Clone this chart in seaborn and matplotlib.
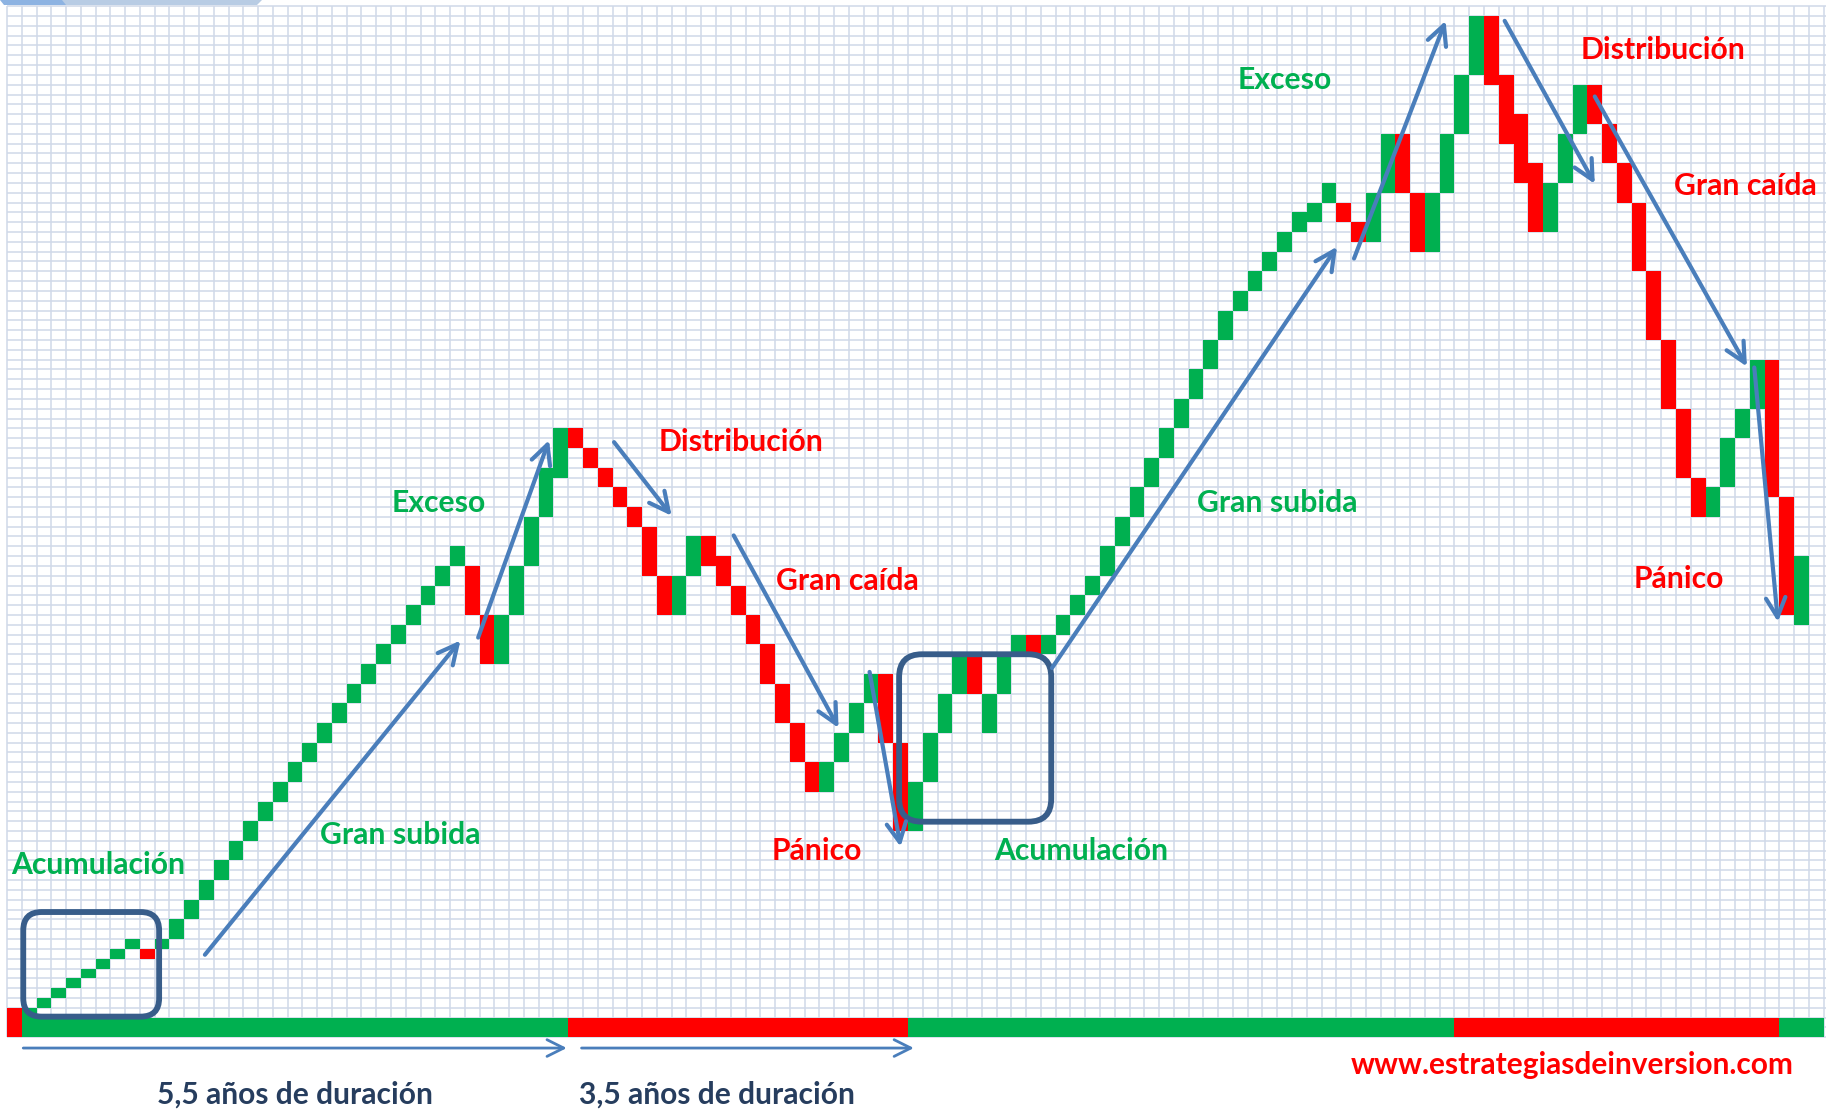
import numpy as np
import pandas as pd
import seaborn as sns
import matplotlib.pyplot as plt
from matplotlib.patches import FancyBboxPatch, Polygon

# --- data: one brick column per grid column (rows are grid rows) ---
brick_low = [0, 0, 1, 2, 3, 4, 5, 6, 7, 6, 7, 8, 10, 12, 14, 16, 18, 20, 22, 24,
             26, 28, 30, 32, 34, 36, 38, 40, 42, 44, 46, 41, 36, 36, 41, 46, 51, 55, 58, 56,
             54, 52, 50, 45, 41, 41, 45, 46, 44, 41, 38, 34, 30, 26, 23, 23, 26, 29, 32, 28,
             19, 19, 24, 29, 33, 33, 29, 33, 37, 37, 37, 39, 41, 43, 45, 48, 51, 54, 57, 60,
             63, 66, 69, 72, 74, 76, 78, 80, 81, 83, 81, 79, 79, 84, 84, 78, 78, 84, 90, 96,
             95, 89, 85, 80, 80, 85, 90, 91, 87, 83, 76, 69, 62, 55, 51, 51, 54, 59, 62, 53,
             41, 40]
brick_high = [1, 1, 2, 3, 4, 5, 6, 7, 8, 7, 8, 10, 12, 14, 16, 18, 20, 22, 24, 26,
              28, 30, 32, 34, 36, 38, 40, 42, 44, 46, 48, 46, 41, 41, 46, 51, 56, 60, 60, 58,
              56, 54, 52, 50, 45, 45, 49, 49, 47, 44, 41, 38, 34, 30, 26, 26, 29, 32, 35, 35,
              28, 24, 29, 33, 37, 37, 33, 37, 39, 39, 39, 41, 43, 45, 48, 51, 54, 57, 60, 63,
              66, 69, 72, 74, 76, 78, 80, 82, 83, 85, 83, 81, 84, 90, 90, 84, 84, 90, 96, 102,
              102, 96, 92, 87, 85, 90, 95, 95, 91, 87, 83, 76, 69, 62, 55, 54, 59, 62, 67, 67,
              53, 47]
brick_color = ("rggggggggrgggggggggg"
               "gggggggggggrrgggggrr"
               "rrrrrggrrrrrrrrggggr"
               "rggggrgggrgggggggggg"
               "ggggggggggrrggrrgggg"
               "rrrrgggrrrrrrrrggggr"
               "rg")

# market phases along the bottom strip (grid columns)
phase_start = [0, 1, 38, 61, 98, 120]
phase_end = [1, 38, 61, 98, 120, 123]
phase_color = ["r", "g", "r", "g", "r", "g"]

# annotation labels: text, x (column), y (row), colour
label_text = ["Acumulación", "Gran subida", "Exceso", "Distribución", "Gran caída", "Pánico",
              "Acumulación", "Gran subida", "Exceso", "Distribución", "Gran caída", "Pánico"]
label_x = [6.15, 26.6, 29.2, 49.7, 56.9, 54.8, 72.7, 86.0, 86.5, 112.1, 117.7, 113.2]
label_y = [15.5, 18.6, 52.4, 58.6, 44.5, 17.0, 17.0, 52.4, 95.5, 98.5, 84.7, 44.7]
label_color = ["g", "g", "g", "r", "r", "r", "g", "g", "g", "r", "r", "r"]

# trend arrows: start (x, y) -> end (x, y)
arrow_x0 = [13.4, 31.9, 41.1, 49.2, 58.4, 70.75, 91.2, 101.4, 107.5, 118.3]
arrow_y0 = [6.4, 38.7, 58.6, 49.1, 35.2, 35.6, 77.3, 101.5, 93.8, 66.2]
arrow_x1 = [30.7, 36.7, 45.0, 56.3, 60.5, 90.05, 97.4, 107.5, 117.8, 119.9]
arrow_y1 = [38.4, 58.8, 51.1, 29.5, 17.4, 78.5, 101.5, 84.9, 66.3, 40.3]

# accumulation boxes: left, bottom, right, top
box_left = [1.1, 60.4]
box_bottom = [0.1, 19.95]
box_right = [10.3, 70.7]
box_top = [10.75, 37.0]

# duration arrows under the strip
span_x0 = [1.1, 38.9]
span_x1 = [37.9, 61.4]
span_text = ["5,5 años de duración", "3,5 años de duración"]
span_text_x = [19.5, 48.1]

GREEN = "#00b050"
RED = "#ff0000"
ARROW = "#4a7ebb"
BOX = "#385d8a"
NAVY = "#263d5e"
GRID = "#d0d8e8"
cmap = {"g": GREEN, "r": RED}

# pixel geometry of the sheet grid
W, H = 1826, 1110
COL_PX, ROW_PX = 14.77, 9.82
X0_PX, Y0_PX = 7.0, 1017.6

sns.set_style("white")
plt.rcParams["font.family"] = ["Lato", "DejaVu Sans"]

fig = plt.figure(figsize=(W / 100, H / 100), dpi=100)
ax = fig.add_axes([0, 0, 1, 1])
ax.set_xlim(-X0_PX / COL_PX, (W - X0_PX) / COL_PX)
ax.set_ylim((Y0_PX - H) / ROW_PX, Y0_PX / ROW_PX)
ax.axis("off")

# spreadsheet grid
n_cols = 123
ax.vlines(np.arange(0, n_cols + 1), -2, 103, color=GRID, lw=1.1, zorder=1)
ax.hlines(np.arange(-2, 104), 0, (W - X0_PX) / COL_PX, color=GRID, lw=1.1, zorder=1)

bricks = pd.DataFrame({"col": np.arange(len(brick_low)), "low": brick_low,
                       "high": brick_high, "color": list(brick_color)})
ax.bar(bricks["col"] + 0.5, bricks["high"] - bricks["low"], bottom=bricks["low"],
       width=1.0, color=bricks["color"].map(cmap), linewidth=0, zorder=3)

phases = pd.DataFrame({"start": phase_start, "end": phase_end, "color": phase_color})
ax.bar((phases["start"] + phases["end"]) / 2, 2, bottom=-2,
       width=phases["end"] - phases["start"], color=phases["color"].map(cmap),
       linewidth=0, zorder=3)

aspect = COL_PX / ROW_PX
for l, b, r, t, rs in zip(box_left, box_bottom, box_right, box_top, [1.25, 1.55]):
    ax.add_patch(FancyBboxPatch((l, b), r - l, t - b,
                                boxstyle=f"round,pad=0,rounding_size={rs}",
                                mutation_aspect=aspect, fill=False,
                                edgecolor=BOX, lw=4.2, zorder=5))

for x0, y0, x1, y1 in zip(arrow_x0, arrow_y0, arrow_x1, arrow_y1):
    ax.annotate("", xy=(x1, y1), xytext=(x0, y0),
                arrowprops=dict(arrowstyle="->,head_length=0.7,head_width=0.35",
                                color=ARROW, lw=3.0, mutation_scale=20,
                                shrinkA=0, shrinkB=0), zorder=6)

for x0, x1 in zip(span_x0, span_x1):
    ax.annotate("", xy=(x1, -3.1), xytext=(x0, -3.1),
                arrowprops=dict(arrowstyle="->,head_length=0.6,head_width=0.3",
                                color=ARROW, lw=2.0, mutation_scale=20,
                                shrinkA=0, shrinkB=0), zorder=6)

for s, x, y, c in zip(label_text, label_x, label_y, label_color):
    ax.text(x, y, s, color=cmap[c], fontsize=21.7, fontweight="bold",
            ha="center", va="center", zorder=7)

for s, x in zip(span_text, span_text_x):
    ax.text(x, -7.8, s, color=NAVY, fontsize=21.6, fontweight="bold",
            ha="center", va="center", zorder=7)

ax.text(106.0, -4.8, "www.estrategiasdeinversion.com", color=RED, fontsize=21.5,
        fontweight="bold", ha="center", va="center", zorder=7)

# sheet tab strip at the top-left corner
fig.add_artist(Polygon([(0, 1), (262 / W, 1), (257 / W, 1 - 5 / H), (60 / W, 1 - 5 / H)],
                       closed=True, transform=fig.transFigure, color="#b8cce4", lw=0))
fig.add_artist(Polygon([(0, 1), (62 / W, 1), (66 / W, 1 - 5 / H), (4 / W, 1 - 5 / H)],
                       closed=True, transform=fig.transFigure, color="#8db3e2", lw=0))

fig.savefig("out.png", dpi=100, facecolor="white")
